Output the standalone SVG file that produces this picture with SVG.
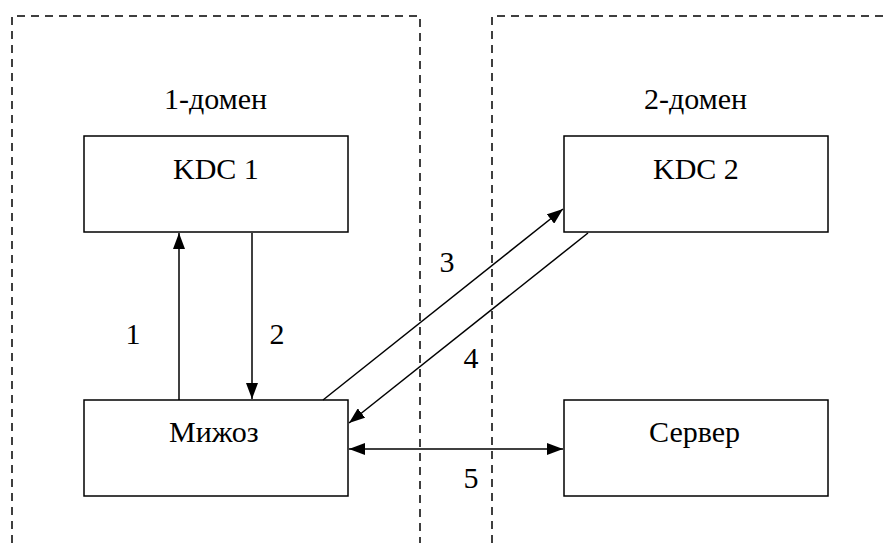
<svg xmlns="http://www.w3.org/2000/svg" width="889" height="543" viewBox="0 0 889 543">
<defs>
<marker id="ah" markerUnits="userSpaceOnUse" markerWidth="16" markerHeight="12" viewBox="0 0 16 12" refX="16" refY="6" orient="auto-start-reverse">
<path d="M0,0 L16,6 L0,12 Z" fill="#000"/>
</marker>
</defs>
<rect width="889" height="543" fill="#fff"/>
<g fill="none" stroke="#000" stroke-width="1.5" stroke-dasharray="8 6">
<path id="domain1-border" d="M12,543 L12,16 L420,16 L420,543"/>
<path id="domain2-border" d="M492,543 L492,16 L889,16"/>
</g>
<g fill="#fff" stroke="#000" stroke-width="1.5">
<rect id="kdc1-box" x="84" y="136" width="264" height="96"/>
<rect id="kdc2-box" x="564" y="136" width="264" height="96"/>
<rect id="client-box" x="84" y="400" width="264" height="96"/>
<rect id="server-box" x="564" y="400" width="264" height="96"/>
</g>
<g id="connectors" stroke="#000" stroke-width="1.5" fill="none">
<line x1="179" y1="400" x2="179" y2="233" marker-end="url(#ah)"/>
<line x1="252" y1="233" x2="252" y2="399" marker-end="url(#ah)"/>
<line x1="323" y1="400" x2="563" y2="209" marker-end="url(#ah)"/>
<line x1="588" y1="233" x2="349" y2="423" marker-end="url(#ah)"/>
<line x1="349" y1="449" x2="563" y2="449" marker-start="url(#ah)" marker-end="url(#ah)"/>
</g>
<g font-family="'Liberation Serif', 'Times New Roman', serif" font-size="30" fill="#000">
<text x="164" y="109">1-домен</text>
<text x="644" y="109">2-домен</text>
<text x="173" y="179">KDC 1</text>
<text x="653" y="179">KDC 2</text>
<text x="169" y="442">Мижоз</text>
<text x="649" y="442">Сервер</text>
<text x="125.5" y="344">1</text>
<text x="269.5" y="344">2</text>
<text x="439.5" y="272">3</text>
<text x="463.5" y="368">4</text>
<text x="463.5" y="488">5</text>
</g>
</svg>
